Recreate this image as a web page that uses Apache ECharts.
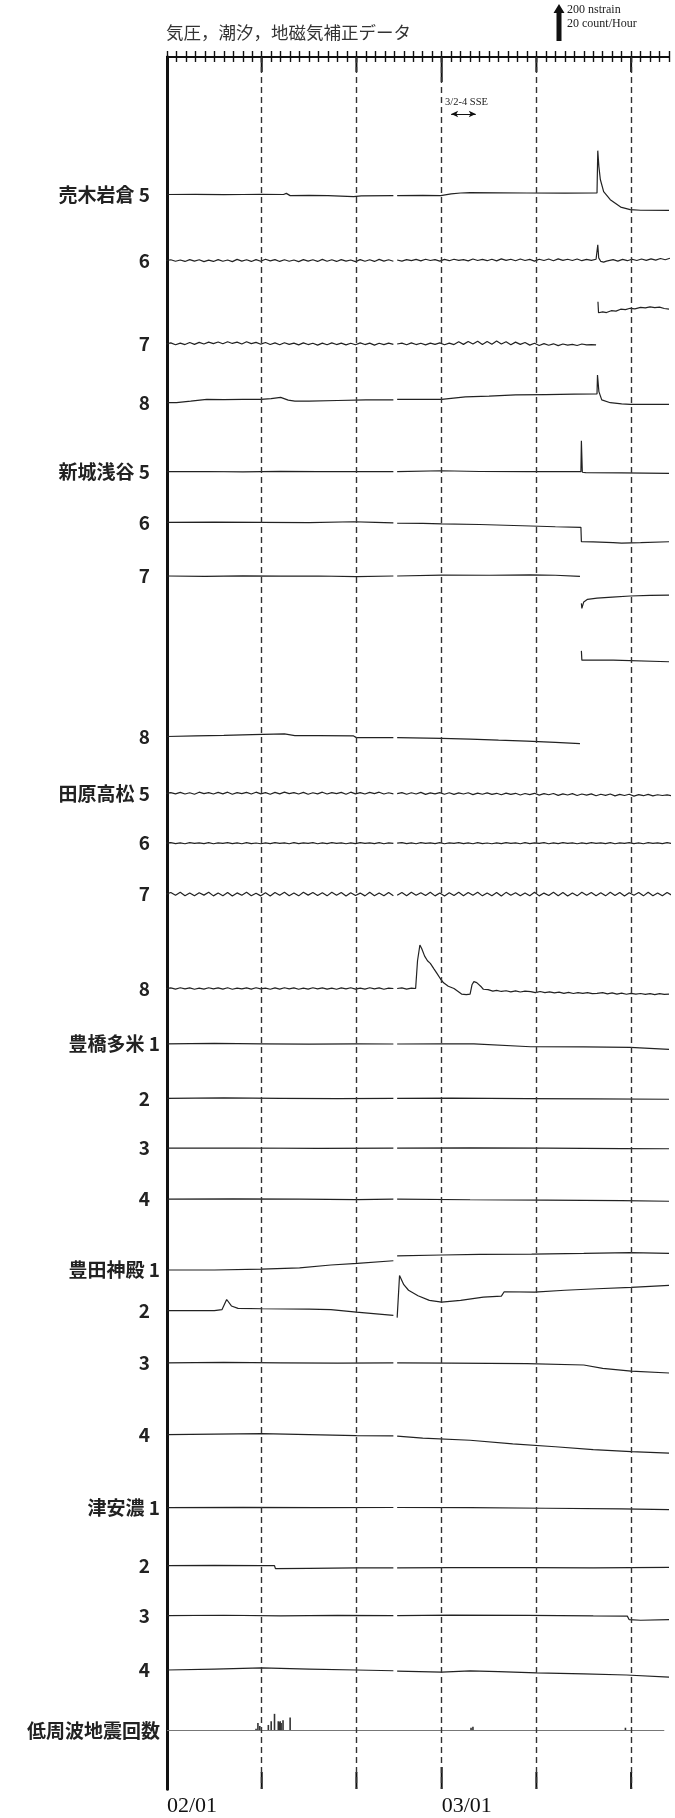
<!DOCTYPE html>
<html><head><meta charset="utf-8">
<script src="https://cdn.jsdelivr.net/npm/echarts@6/dist/echarts.min.js"></script>
<style>html,body{margin:0;padding:0;background:#fff}#c{width:675px;height:1818px}</style>
</head><body><div id="c"></div>
<script>
// ---------- time axis (days since 2020-02-01) ----------
const startDate = '2020-02-01';
const dayMax = 53;                       // 03/25
const tickLabelDays = [0, 29];
const tickLabels = ['02/01', '03/01'];
const majorDays = [0, 10, 20, 29, 39, 49];
const majorIsMonth = [1, 0, 0, 1, 0, 0];
const dashedDays = [10, 20, 29, 39, 49];
const sseRange = [30, 32.6];             // 3/2-4 SSE

// ---------- values: nstrain change (up = +), [day, value] ----------
const u5A = [[0,0],[3,1],[6,-1],[8,0],[10,1],[12.3,0],[12.6,6],[13,-6],[15,-5],[17,-6],[19.7,-12],[20.5,-7],[23.9,-6]];
const u5B = [[24.3,-6],[27,-5],[28.9,-6],[30,3],[31,8],[32,10],[35,9],[38,8],[42,7],[45.4,8],[45.48,237],[45.6,150],[45.75,81],[46.1,16],[46.8,-28],[47.9,-68],[48.9,-82],[50,-85],[53,-86]];
const u6A = [0,5,-3,4,-4,6,-2,5,-5,3,-4,6,-3,4,-5,7,-2,5,-4,6,-3,8,-1,6,-4,5,-3,4,-5,6,-2,5,-4,7,-3,5,-4,6,-2,4,-5,6,-3,5,-4,7,-2,5,-3];
const u6B = [4,-2,6,0,7,-1,8,1,6,-2,7,0,8,2,6,-1,9,1,7,0,8,-1,10,2,8,0,9,1,7,-2,8,1,9,0,10,2,8,1,9,0,7,2,8];
const u6Spike = [[45.42,6],[45.48,86],[45.58,15],[45.8,-4],[46.1,-8],[46.4,-2]];
const u6C = [0,6,-2,7,0,8,1,9,2,10,3,12,5,13];
const u7A = [0,6,-4,5,-3,8,-2,9,0,10,2,11,1,12,3,10,0,12,2,9,-1,8,-3,6,-4,7,-2,5,-5,6,-3,4,-6,5,-4,6,-3,5,-5,4,-4,6,-3,5,-6,4,-3,5,-2];
const u7B = [0,5,-4,6,-3,4,-5,5,-2,6,-4,5,-3,12,-2,14,0,15,-3,13,-1,16,0,12,-4,10,-2,8,-6,4,-8,2,-7,1,-9,0,-6,-2,-8,0,-5,-3,-5];
const u7C = [[45.5,228],[45.56,169],[46,174],[46.4,170],[46.9,180],[47.4,178],[47.9,188],[48.4,186],[48.9,193],[49.4,190],[50,198],[50.5,195],[51,201],[51.5,197],[52,199],[52.5,192],[53,189]];
const u8A = [[0,0],[1,0],[2.5,8],[4.2,18],[6,17],[8,18],[9.9,18],[11,22],[12,29],[12.8,14],[13.5,9],[15,9],[18,12],[21,15],[23.9,15]];
const u8B = [[24.3,18],[27,18],[29,18],[31.5,32],[34,36],[36.8,42],[40,44],[43,46],[45.4,47],[45.45,150],[45.6,60],[45.9,15],[46.8,0],[48,-6],[48.9,-9],[53,-9]];

const s5A = [[0,0],[4,1],[8,-1],[12,2],[16,0],[20,1],[23.9,0]];
const s5B = [[24.3,0],[29,5],[33,1],[38,0],[43.7,0],[43.75,167],[43.85,-3],[44.2,-5],[48,-6],[53,-9]];
const s6A = [[0,0],[5,1],[10,0],[15,-2],[19.7,3],[22,0],[23.9,-3]];
const s6B = [[24.3,-5],[27,-6],[29,-9],[33,-12],[38.4,-20],[41,-24],[43.7,-27],[43.75,-105],[45,-106],[47.1,-110],[48,-113],[50,-110],[53,-105]];
const s7A = [[0,0],[4,-2],[8,1],[12,-1],[16,0],[20,-3],[23.9,0]];
const s7B = [[24.3,0],[29,5],[34,4],[38.4,6],[41,4],[43.6,-2]];
const s7C = [[43.75,-148],[43.8,-175],[44.0,-140],[44.4,-126],[45.4,-120],[47,-114],[48.9,-108],[51,-105],[53,-103]];
const s8A = [[0,0],[3,3],[6,6],[9,10],[12.4,14],[13.5,5],[16,5],[19.7,3],[20,-6],[23.9,-6]];
const s8B = [[24.3,-6],[29,-10],[32,-14],[35,-20],[38,-25],[41,-32],[43.6,-38]];
const s8C = [[43.75,463],[43.8,413],[45,413],[47.1,413],[47.15,404],[53,404]];

const t5A = [0,4,-3,5,-4,3,-5,6,-2,4,-4,5,-3,6,-5,4,-2,5,-4,6,-3,4,-5,5,-3,6,-2,4,-4,5,-5,3,-3,6,-4,4,-2,5,-5,6,-3,4,-4,5,-2,6,-4,3,-3];
const t5B = [-2,4,-5,3,-4,5,-6,2,-3,4,-5,3,-6,2,-4,3,-7,1,-5,2,-6,0,-8,1,-6,0,-9,-1,-7,0,-10,-2,-8,-1,-11,-3,-9,-2,-12,-4,-10,-3,-13,-5,-11,-4,-14,-6,-12,-5,-15,-7,-13,-6,-14,-8,-12,-9,-13];
const t6A = [0,3,-2,2,-3,3,-1,2,-2,3,-3,2,-1,3,-2,2,-3,3,-2,1,-3,2,-2,3,-1,2,-3,3,-2,2,-1,3,-3,2,-2,3,-1,2,-3,2,-2,3,-1,2,-2,3,-3,2,-1];
const t6B = [0,3,-2,2,-3,3,-1,2,-2,3,-3,2,-1,3,-2,2,-3,3,-2,1,-3,2,-2,3,-1,2,-3,3,-2,2,-1,3,-3,2,-2,3,-1,2,-3,2,-2,3,-1,2,-2,3,-3,2,-1,3,-2,2,-3,3,-1,2,-2,3,-2];
const t7A = [0,9,-6,10,-8,7,-9,8,-5,10,-9,6,-8,9,-10,7,-6,10,-8,5,-9,8,-10,9,-6,10,-8,7,-9,10,-5,9,-7,8,-9,10,-6,9,-10,8,-7,6,-9,10,-8,7,-9,9,-8];
const t7B = [-6,9,-8,10,-6,8,-7,10,-9,6,-10,8,-7,10,-8,9,-6,10,-9,7,-8,9,-10,10,-6,8,-9,7,-8,10,-9,6,-7,10,-8,9,-10,7,-9,10,-6,9,-8,8,-9,10,-7,9,-10,8,-6,9,-9,10,-8,7,-9,9,-6];
const t8A = [0,3,-3,4,-2,3,-4,2,-3,4,-2,3,-3,4,-4,2,-2,3,-3,4,-2,2,-4,3,-3,4,-2,3,-4,2,-3,4,-2,3,-3,2,-4,3,-2,4,-3,2,-3,4,-2,3,-4,2,0];
const t8B = [[24.3,0],[24.8,3],[25.3,-3],[25.8,2],[26.25,0],[26.45,150],[26.7,235],[26.9,215],[27.2,175],[27.5,150],[27.8,136],[28.2,105],[28.5,82],[28.9,50],[29.2,31],[29.7,12],[30.3,0],[30.7,-15],[31.1,-30],[31.6,-33],[32.0,-30],[32.2,20],[32.4,37],[32.7,32],[32.9,28],[33.2,8],[33.4,-4],[33.9,-6],[34.4,-14],[34.8,-10],[35.3,-16],[35.8,-12],[36.3,-18],[36.8,-13],[37.3,-19],[37.8,-14],[38.4,-17],[38.9,-22],[39.4,-16],[39.9,-22],[40.4,-18],[40.9,-24],[41.4,-20],[41.9,-26],[42.4,-21],[42.9,-27],[43.4,-22],[43.9,-26],[44.4,-22],[44.9,-28],[45.4,-26],[46,-22],[46.5,-29],[47,-24],[47.5,-30],[48,-25],[48.5,-31],[49,-26],[49.5,-30],[50,-27],[50.5,-32],[51,-28],[51.5,-33],[52,-28],[52.5,-32],[53,-30]];

const h1A = [[0,0],[5,2],[10,0],[15,-2],[20,0],[23.9,-1]];
const h1B = [[24.3,-1],[29,0],[32.4,0],[38.4,-16],[44,-17],[48.9,-19],[53,-30]];
const h2A = [[0,0],[6,2],[12,0],[18,-2],[23.9,0]];
const h2B = [[24.3,0],[30,1],[38,-2],[45,-3],[53,-5]];
const h3A = [[0,0],[8,1],[16,-1],[23.9,0]];
const h3B = [[24.3,0],[32,2],[40,0],[48,-2],[53,-3]];
const h4A = [[0,0],[7,2],[14,0],[20,-2],[23.9,0]];
const h4B = [[24.3,0],[32,-3],[40,-5],[48,-8],[53,-11]];

const d1A = [[0,0],[5,0],[10,5],[14,12],[17.3,27],[20.1,36],[23.9,50]];
const d1B = [[24.3,76],[29,81],[33,84],[38.5,86],[44,90],[48.9,94],[53,90]];
const d2A = [[0,0],[5,0],[5.8,5],[6.3,60],[6.8,25],[7.5,12],[10,10],[15,8],[17.3,5],[20,-8],[23.9,-26]];
const d2B = [[24.3,-38],[24.5,-38],[24.55,190],[25,140],[25.5,110],[26.5,80],[27.7,55],[29,46],[31,55],[33.4,73],[35.3,78],[35.6,102],[38.8,100],[42,110],[45.4,118],[49,126],[53,136]];
const d3A = [[0,0],[6,2],[12,0],[18,-2],[23.9,0]];
const d3B = [[24.3,0],[30,-2],[38,-4],[44,-12],[46,-30],[49,-45],[53,-55]];
const d4A = [[0,0],[5,3],[10,6],[15,0],[20,-5],[23.9,-6]];
const d4B = [[24.3,-8],[27,-19],[32,-30],[36.5,-50],[41,-65],[45,-81],[49,-92],[53,-100]];

const a1A = [[0,0],[8,2],[16,0],[23.9,1]];
const a1B = [[24.3,1],[32,0],[40,-3],[48,-6],[53,-10]];
const a2A = [[0,0],[5,2],[10,0],[11.35,0],[11.45,-16],[15,-14],[20,-12],[23.9,-12]];
const a2B = [[24.3,-12],[30,-10],[38,-10],[45,-12],[53,-9]];
const a3A = [[0,0],[6,2],[12,-1],[18,1],[23.9,0]];
const a3B = [[24.3,0],[30,3],[38,1],[45,-2],[48.6,-3],[48.8,-22],[50,-25],[53,-22]];
const a4A = [[0,0],[5,5],[10,11],[15,5],[20,0],[23.9,-4]];
const a4B = [[24.3,-6],[29,-11],[32,-5],[35,-9],[39,-16],[44,-21],[48.5,-27],[53,-38]];

// low-frequency earthquakes: [day, count/hour]
const lfeCounts = [[9.4,1],[9.6,4],[9.8,2.5],[10.7,3],[11.0,5],[11.35,9],[11.75,5],[11.85,4.5],[11.95,5],[12.05,4],[12.25,5.5],[13.0,7],[32.1,1.5],[32.3,2],[48.4,1.5]];
const lfeLineEnd = 52.5;

// ---------- layout ----------
const GRID_TOP = 57, GRID_BOTTOM = 1789, GRID_LEFT = 167, GRID_RIGHT = 6;
const PX_PER_NS = 37 / 200;          // 200 nstrain bar = 37 px
const NS_PER_COUNT = 200 / 20;       // 20 count/hour = same bar
const H_NS = (GRID_BOTTOM - GRID_TOP) / PX_PER_NS;
const base = y => (y - GRID_TOP) / PX_PER_NS;

function wig(t0, t1, vals) { const n = vals.length; return vals.map((v, i) => [t0 + i * (t1 - t0) / (n - 1), v]); }

const rows = [
  {y:194.5, label:'売木岩倉 5', rx:150, segs:[u5A, u5B]},
  {y:260.7, label:'6', rx:150, segs:[wig(-0.1,23.9,u6A), wig(24.3,45.3,u6B).concat(u6Spike, wig(46.6,53.1,u6C))]},
  {y:344,   label:'7', rx:150, segs:[wig(-0.1,23.9,u7A), wig(24.3,45.3,u7B), u7C]},
  {y:402.7, label:'8', rx:150, segs:[u8A, u8B]},
  {y:471.7, label:'新城浅谷 5', rx:150, segs:[s5A, s5B]},
  {y:522.3, label:'6', rx:150, segs:[s6A, s6B]},
  {y:576,   label:'7', rx:150, segs:[s7A, s7B, s7C]},
  {y:736.5, label:'8', rx:150, segs:[s8A, s8B, s8C]},
  {y:793.3, label:'田原高松 5', rx:150, segs:[wig(-0.1,23.9,t5A), wig(24.3,53.3,t5B)]},
  {y:843.2, label:'6', rx:150, segs:[wig(-0.1,23.9,t6A), wig(24.3,53.3,t6B)]},
  {y:894.2, label:'7', rx:150, segs:[wig(-0.1,23.9,t7A), wig(24.3,53.3,t7B)]},
  {y:988.5, label:'8', rx:150, segs:[wig(-0.1,23.9,t8A), t8B]},
  {y:1043.8, label:'豊橋多米 1', rx:160, segs:[h1A, h1B]},
  {y:1098.3, label:'2', rx:150, segs:[h2A, h2B]},
  {y:1148.2, label:'3', rx:150, segs:[h3A, h3B]},
  {y:1199.2, label:'4', rx:150, segs:[h4A, h4B]},
  {y:1270,   label:'豊田神殿 1', rx:160, segs:[d1A, d1B]},
  {y:1310.6, label:'2', rx:150, segs:[d2A, d2B]},
  {y:1362.8, label:'3', rx:150, segs:[d3A, d3B]},
  {y:1434.7, label:'4', rx:150, segs:[d4A, d4B]},
  {y:1507.7, label:'津安濃 1', rx:160, segs:[a1A, a1B]},
  {y:1565.7, label:'2', rx:150, segs:[a2A, a2B]},
  {y:1615.6, label:'3', rx:150, segs:[a3A, a3B]},
  {y:1670,   label:'4', rx:150, segs:[a4A, a4B]}
];
const lfeRow = {y:1730.5, label:'低周波地震回数', rx:160};

const INK = '#222';
const series = [];
rows.forEach(r => {
  const b = base(r.y);
  r.segs.forEach(seg => {
    series.push({type:'line', silent:true, symbol:'none', showSymbol:false, animation:false,
      lineStyle:{width:1.2, color:INK}, data: seg.map(p => [p[0], b - p[1]])});
  });
});
// vertical dashed lines
series[0].markLine = {silent:true, symbol:['none','none'], animation:false, label:{show:false},
  lineStyle:{type:[6,4], width:1.4, color:'#333'}, data: dashedDays.map(d => ({xAxis:d}))};

const lfeBase = base(lfeRow.y);
const sseY = base(114);
series.push({type:'line', silent:true, symbol:'none', animation:false, lineStyle:{width:1.2, color:'#777'},
  data:[[0, lfeBase],[lfeLineEnd, lfeBase]],
  markLine:{silent:true, symbol:['arrow','arrow'], symbolSize:[5,7], animation:false, label:{show:false},
    lineStyle:{type:'solid', width:1, color:'#111'},
    data:[[{coord:[sseRange[0], sseY]},{coord:[sseRange[1], sseY]}]]}});
series.push({type:'custom', silent:true, animation:false, data: lfeCounts,
  renderItem:(params, api) => {
    const d = api.value(0), c = api.value(1);
    const p0 = api.coord([d, lfeBase]), p1 = api.coord([d, lfeBase - c * NS_PER_COUNT]);
    return {type:'rect', shape:{x:p0[0]-0.8, y:p1[1], width:1.6, height:p0[1]-p1[1]}, style:{fill:'#333'}};
  }});
series.push({type:'custom', silent:true, animation:false, clip:false,
  data: majorDays.map((d,i) => [d, majorIsMonth[i]]),
  renderItem:(params, api) => {
    const x = api.coord([api.value(0), 0])[0], m = api.value(1), cs = params.coordSys;
    const lt = m ? 25 : 15, lb = m ? 22 : 17;
    return {type:'group', children:[
      {type:'line', shape:{x1:x, y1:cs.y, x2:x, y2:cs.y+lt}, style:{stroke:'#111', lineWidth:2}},
      {type:'line', shape:{x1:x, y1:cs.y+cs.height, x2:x, y2:cs.y+cs.height-lb}, style:{stroke:'#111', lineWidth:2}}]};
  }});

// ---------- text ----------
const graphic = [];
const labelFont = {fontFamily:'"Noto Sans CJK JP"', fontSize:19, fontWeight:'bold', fill:'#222'};
rows.concat([lfeRow]).forEach(r => {
  graphic.push({type:'text', x:r.rx, y:r.y, silent:true,
    style:Object.assign({text:r.label, align:'right', verticalAlign:'middle', textAlign:'right', textVerticalAlign:'middle'}, labelFont)});
});
graphic.push({type:'text', x:166, y:32, silent:true, style:{text:'気圧，潮汐，地磁気補正データ', fontFamily:'"Noto Sans CJK JP"', fontSize:17.5, fill:'#333', verticalAlign:'middle', textVerticalAlign:'middle'}});
const arrowBottom = 41, arrowTop = arrowBottom - 200 * PX_PER_NS;
graphic.push({type:'polygon', silent:true, shape:{points:[[556.5,arrowBottom],[556.5,arrowTop+9],[553.5,arrowTop+9],[559,arrowTop],[564.5,arrowTop+9],[561.5,arrowTop+9],[561.5,arrowBottom]]}, style:{fill:'#111'}});
graphic.push({type:'text', x:567, y:10, silent:true, style:{text:'200 nstrain', fontFamily:'"Liberation Serif"', fontSize:12, fill:'#222', verticalAlign:'middle', textVerticalAlign:'middle'}});
graphic.push({type:'text', x:567, y:24, silent:true, style:{text:'20 count/Hour', fontFamily:'"Liberation Serif"', fontSize:12, fill:'#222', verticalAlign:'middle', textVerticalAlign:'middle'}});
graphic.push({type:'text', x:445, y:102, silent:true, style:{text:'3/2-4 SSE', fontFamily:'"Liberation Serif"', fontSize:10.5, fill:'#222', verticalAlign:'middle', textVerticalAlign:'middle'}});

const axisCommon = {type:'value', min:0, max:dayMax, interval:1, splitLine:{show:false}};
const option = {
  backgroundColor:'#fff', animation:false,
  grid:{left:GRID_LEFT, right:GRID_RIGHT, top:GRID_TOP, bottom:1818-GRID_BOTTOM, containLabel:false},
  xAxis:[
    Object.assign({}, axisCommon, {position:'bottom',
      axisLine:{show:true, lineStyle:{color:'#111', width:2}},
      axisTick:{show:true, inside:true, length:6, lineStyle:{color:'#111', width:1.4}},
      axisLabel:{show:true, align:'left', margin:6, color:'#111', fontFamily:'"Liberation Serif"', fontSize:22,
        formatter: v => { const i = tickLabelDays.indexOf(v); return i >= 0 ? tickLabels[i] : ''; }}}),
    Object.assign({}, axisCommon, {position:'top',
      axisLine:{show:true, lineStyle:{color:'#111', width:2}},
      axisTick:{show:true, inside:true, length:5, lineStyle:{color:'#111', width:1.4}},
      axisLabel:{show:false}})
  ],
  yAxis:[
    {type:'value', min:0, max:H_NS, inverse:true, position:'left', splitLine:{show:false}, axisTick:{show:false}, axisLabel:{show:false},
      axisLine:{show:true, lineStyle:{color:'#111', width:3}}},
    {type:'value', min:0, max:H_NS, inverse:true, position:'right', splitLine:{show:false}, axisTick:{show:false}, axisLabel:{show:false},
      axisLine:{show:true, lineStyle:{color:'#111', width:3}}}
  ],
  graphic: graphic,
  series: series
};
const chart = echarts.init(document.getElementById('c'), null, {renderer:'canvas', width:675, height:1818});
chart.setOption(option);
</script></body></html>
